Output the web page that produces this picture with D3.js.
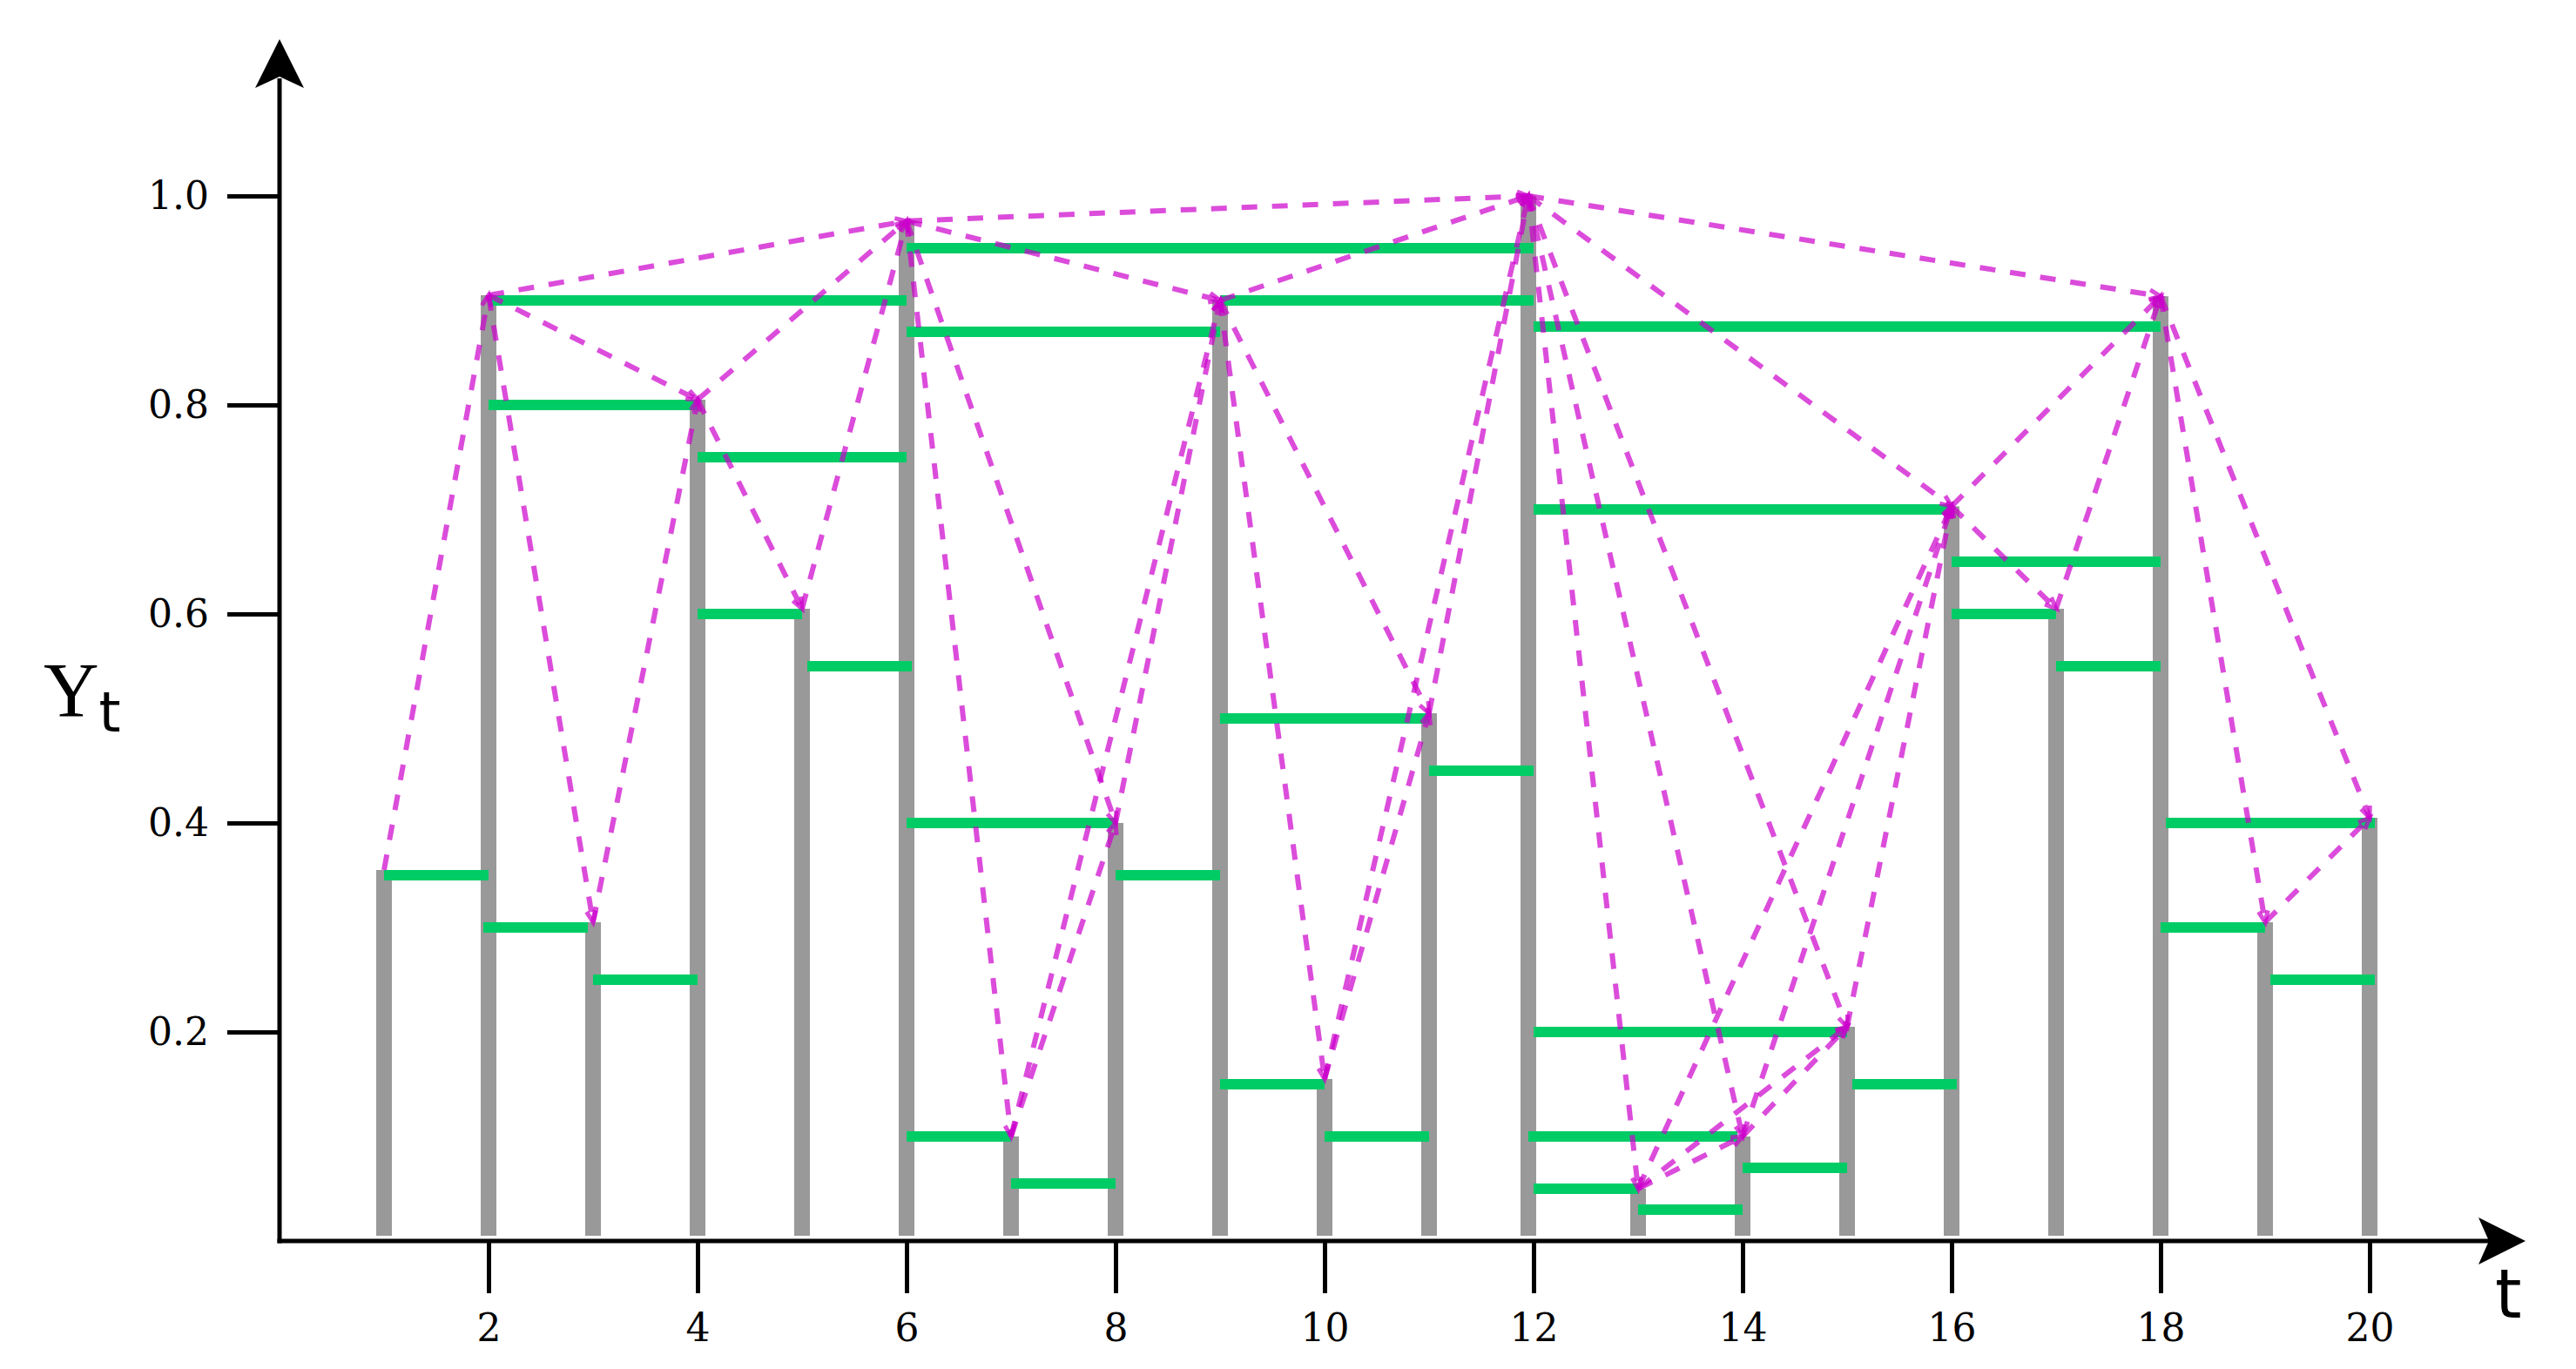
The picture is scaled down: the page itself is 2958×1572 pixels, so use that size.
<!DOCTYPE html>
<html>
<head>
<meta charset="utf-8">
<script src="https://cdn.jsdelivr.net/npm/d3@7"></script>
<style>
  html, body { margin: 0; padding: 0; background: #fff; }
  svg { display: block; }
</style>
</head>
<body>
<svg id="chart" width="2958" height="1572"></svg>
<script>
// ---------------- data ----------------
const timeSteps = [1,2,3,4,5,6,7,8,9,10,11,12,13,14,15,16,17,18,19,20];
const barPositions = [1,2,3,4,5,6,7,8,9,10,11,11.95,13,14,15,16,17,18,19,20];
const seriesValues = [0.355,0.905,0.305,0.805,0.605,0.976,0.1,0.4,0.9,0.155,0.505,1.0,0.05,0.1,0.205,0.703,0.605,0.904,0.305,0.405];

// horizontal (green) segments: start t, end t, level
const segStart = [1,2,2,1.95,3,4,4,5.05, 6,6,6,6,7,8, 9,9,9,10,11, 12,12,12,11.95,12,13,14,15.05, 16,16,17,18.05,18,19.05];
const segEnd   = [2,6,4,2.95,4,6,5,6.05, 12,9,8,7,8,9, 12,11,10,11,12, 18,16,15,13.95,13,14,15,16.05, 18,17,18,20.05,19,20.05];
const segLevel = [0.35,0.9,0.8,0.3,0.25,0.75,0.6,0.55, 0.95,0.87,0.4,0.1,0.055,0.35, 0.9,0.5,0.15,0.1,0.45, 0.875,0.7,0.2,0.1,0.05,0.03,0.07,0.15, 0.65,0.6,0.55,0.4,0.3,0.25];

// dashed (magenta) links between bar tops: from step -> to step
const edgeFrom = [1,2,2,2,3,4,4,5,6,6,6,6,7,7,8,9,9,9,10,10,11,12,12,12,12,12,13,13,13,14,14,15,16,16,17,18,18,19];
const edgeTo   = [2,3,4,6,4,5,6,6,7,8,9,12,8,9,9,10,11,12,11,12,12,13,14,15,16,18,14,15,16,15,16,16,17,18,18,19,20,20];

const xTicks = [2,4,6,8,10,12,14,16,18,20];
const yTicks = [0.2,0.4,0.6,0.8,1.0];
const xTickLabels = ["2","4","6","8","10","12","14","16","18","20"];
const yTickLabels = ["0.2","0.4","0.6","0.8","1.0"];

// ---------------- layout ----------------
const svg = d3.select("#chart");
const x = d3.scaleLinear().domain([0, 21.5]).range([321, 321 + 21.5 * 120]);
const y = d3.scaleLinear().domain([0, 1]).range([1425, 225]);

const GRAY = "#999999", GREEN = "#00cc66", MAG = "#cc00cc";

// bars
svg.append("g").selectAll("rect").data(seriesValues).join("rect")
  .attr("x", (d, i) => x(barPositions[i]) - 9)
  .attr("width", 18)
  .attr("y", d => y(d))
  .attr("height", d => y(0) - 6 - y(d))
  .attr("fill", GRAY);

// green segments
svg.append("g").selectAll("line").data(segLevel).join("line")
  .attr("x1", (d, i) => x(segStart[i]))
  .attr("x2", (d, i) => x(segEnd[i]))
  .attr("y1", d => y(d))
  .attr("y2", d => y(d))
  .attr("stroke", GREEN)
  .attr("stroke-width", 12);

// magenta dashed links with small open arrowheads
const linkG = svg.append("g").attr("stroke", MAG).attr("stroke-opacity", 0.7).attr("fill", "none");
const pt = s => [x(barPositions[s - 1]), y(seriesValues[s - 1])];
edgeFrom.forEach((f, k) => {
  const [x1, y1] = pt(f), [x2, y2] = pt(edgeTo[k]);
  linkG.append("line")
    .attr("x1", x1).attr("y1", y1).attr("x2", x2).attr("y2", y2)
    .attr("stroke-width", 6)
    .attr("stroke-dasharray", "18,17");
  const ang = Math.atan2(y2 - y1, x2 - x1);
  const L = 14, a = 0.4;
  const p1 = [x2 - L * Math.cos(ang - a), y2 - L * Math.sin(ang - a)];
  const p2 = [x2 - L * Math.cos(ang + a), y2 - L * Math.sin(ang + a)];
  linkG.append("path")
    .attr("d", `M${p1[0]},${p1[1]}L${x2},${y2}L${p2[0]},${p2[1]}`)
    .attr("stroke-width", 5);
});

// axes
const axG = svg.append("g");
axG.append("line").attr("x1", 318.5).attr("x2", 2860).attr("y1", y(0)).attr("y2", y(0))
  .attr("stroke", "#000").attr("stroke-width", 5);
axG.append("line").attr("x1", 321).attr("x2", 321).attr("y1", y(0) + 2.5).attr("y2", 90)
  .attr("stroke", "#000").attr("stroke-width", 5);
axG.append("path").attr("d", "M321,45L349,101L321,88L293,101Z").attr("fill", "#000");
axG.append("path").attr("d", `M2900,${y(0)}L2846,${y(0) - 27}L2858,${y(0)}L2846,${y(0) + 27}Z`).attr("fill", "#000");

const xAxis = d3.axisBottom(x).tickValues(xTicks).tickFormat((d, i) => xTickLabels[i])
  .tickSize(60).tickSizeOuter(0).tickPadding(24);
const gx = svg.append("g").attr("transform", `translate(0,${y(0)})`).call(xAxis);
gx.select(".domain").remove();
gx.selectAll(".tick line").attr("stroke", "#000").attr("stroke-width", 5);
gx.selectAll(".tick text").attr("font-family", "'DejaVu Serif', serif").attr("font-size", 44).attr("fill", "#000");

const yAxis = d3.axisLeft(y).tickValues(yTicks).tickFormat((d, i) => yTickLabels[i])
  .tickSize(60).tickSizeOuter(0).tickPadding(21);
const gy = svg.append("g").attr("transform", "translate(321,0)").call(yAxis);
gy.select(".domain").remove();
gy.selectAll(".tick line").attr("stroke", "#000").attr("stroke-width", 5);
gy.selectAll(".tick text").attr("font-family", "'DejaVu Serif', serif").attr("font-size", 44).attr("fill", "#000");

// axis titles
const yt = svg.append("text").attr("x", 50).attr("y", 822).attr("fill", "#000");
yt.append("tspan").attr("font-family", "'Liberation Serif', serif").attr("font-size", 88).text("Y");
yt.append("tspan").attr("font-family", "'DejaVu Sans', sans-serif").attr("font-size", 64).attr("dy", 18).text("t");

svg.append("text").attr("x", 2865).attr("y", 1513)
  .attr("font-family", "'DejaVu Sans', sans-serif").attr("font-size", 78).attr("fill", "#000").text("t");
</script>
</body>
</html>
